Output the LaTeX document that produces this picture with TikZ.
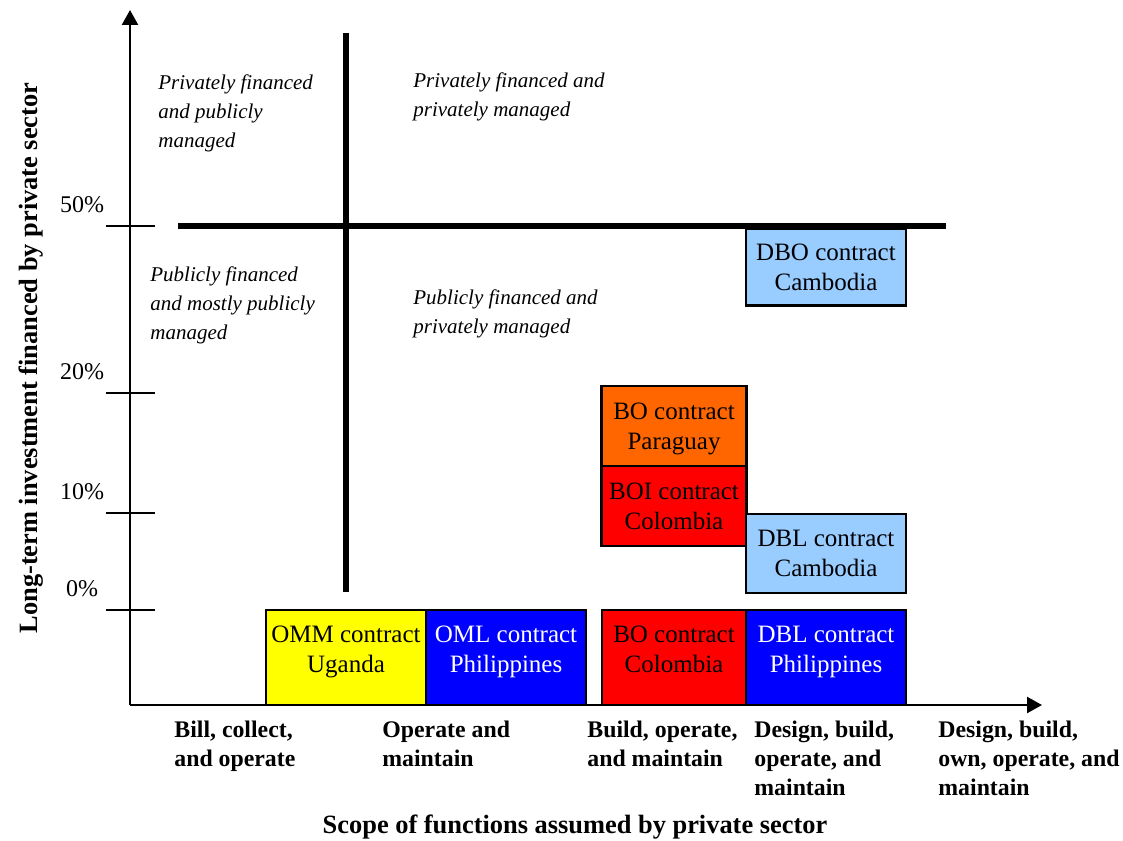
\documentclass[tikz,border=0pt]{standalone}
\usepackage{fontspec}
\setmainfont{Liberation Serif}
\usepackage{xcolor}
\usetikzlibrary{arrows.meta,positioning}

\definecolor{skyblue}{HTML}{99CCFF}
\definecolor{orangebox}{HTML}{FF6600}
\definecolor{redbox}{HTML}{FF0000}
\definecolor{yellowbox}{HTML}{FFFF00}
\definecolor{bluebox}{HTML}{0000FF}

\begin{document}
\begin{tikzpicture}[x=0.5pt, y=-0.5pt,
    axisline/.style={line width=1.2pt, -{Triangle[length=7.5pt, width=8pt]}},
    tickline/.style={line width=1.2pt},
    divider/.style={line width=3pt},
    cbox/.style={rectangle, draw, line width=1.2pt, inner sep=0pt, align=center,
        font=\fontsize{12.5}{15}\selectfont, text depth=0pt},
    lowrow/.style={text depth=8.5pt},
    quadtext/.style={anchor=north west, inner sep=0pt, align=left,
        font=\fontsize{10.5}{14.5}\selectfont\itshape},
    scopetext/.style={anchor=north west, inner sep=0pt, align=left,
        font=\fontsize{11.9}{14.5}\selectfont\bfseries},
    ticklabel/.style={anchor=base, inner sep=0pt, font=\fontsize{12}{14}\selectfont}
]
    \useasboundingbox (0,0) rectangle (1123,840);

    % Contract boxes
    \foreach \nm/\cx/\cy/\w/\h/\fc/\tc/\txt in {
        dbo/826/267/80/38.5/skyblue/black/{DBO contract\\Cambodia},
        boparaguay/674/426/72.5/40/orangebox/black/{BO contract\\Paraguay},
        boicolombia/674/506/72.5/40/redbox/black/{BOI contract\\Colombia},
        dblcambodia/826/553.5/80/39.5/skyblue/black/{DBL contract\\Cambodia}} {
        \node[cbox, fill=\fc, text=\tc, minimum width=\w pt, minimum height=\h pt]
            (\nm) at (\cx,\cy) {\txt};
    }
    \foreach \nm/\cx/\w/\fc/\tc/\txt in {
        ommuganda/346/80/yellowbox/black/{OMM contract\\Uganda},
        omlphilippines/506/80/bluebox/white/{OML contract\\Philippines},
        bocolombia/674/72/redbox/black/{BO contract\\Colombia},
        dblphilippines/826/80/bluebox/white/{DBL contract\\Philippines}} {
        \node[cbox, lowrow, fill=\fc, text=\tc, minimum width=\w pt, minimum height=47.5pt]
            (\nm) at (\cx,657.5) {\txt};
    }

    % Axes
    \coordinate (origin) at (130,705);
    \coordinate (ytip) at (130,10);
    \coordinate (xtip) at (1042,705);
    \draw[axisline] (origin) -- (ytip);
    \draw[axisline] (origin) -- (xtip);

    % Ticks
    \foreach \yy/\lab/\nm in {226/50\%/t50, 393/20\%/t20, 513/10\%/t10, 610/0\%/t0} {
        \draw[tickline] (106,\yy) -- (155,\yy);
        \node[ticklabel] (\nm) at (82,\yy-14) {\lab};
    }

    % Quadrant dividers
    \coordinate (hleft) at (178,226);
    \coordinate (hright) at (946,226);
    \coordinate (vtop) at (346,33);
    \coordinate (vbottom) at (346,592);
    \draw[divider] (hleft) -- (hright);
    \draw[divider] (vtop) -- (vbottom);

    % Quadrant texts
    \node[quadtext] (privpub) at (158,74) {Privately financed\\and publicly\\managed};
    \node[quadtext] (privpriv) at (413,72) {Privately financed and\\privately managed};
    \node[quadtext] (pubpub) at (150,266) {Publicly financed\\and mostly publicly\\managed};
    \node[quadtext] (pubpriv) at (413,289) {Publicly financed and\\privately managed};

    % Scope labels
    \node[scopetext] (bill) at (174,721) {Bill, collect,\\and operate};
    \node[scopetext] (operate) at (382,721) {Operate and\\maintain};
    \node[scopetext] (build) at (587,721) {Build, operate,\\and maintain};
    \node[scopetext] (design) at (754,721) {Design, build,\\operate, and\\maintain};
    \node[scopetext] (designown) at (938,721) {Design, build,\\own, operate, and\\maintain};

    % Axis titles
    \node[anchor=base, inner sep=0pt, font=\fontsize{13.2}{16}\selectfont\bfseries]
        (xtitle) at (575,833) {Scope of functions assumed by private sector};
    \node[anchor=base, rotate=90, inner sep=0pt, font=\fontsize{13.2}{16}\selectfont\bfseries]
        (ytitle) at (37,358) {Long-term investment financed by private sector};
\end{tikzpicture}
\end{document}
